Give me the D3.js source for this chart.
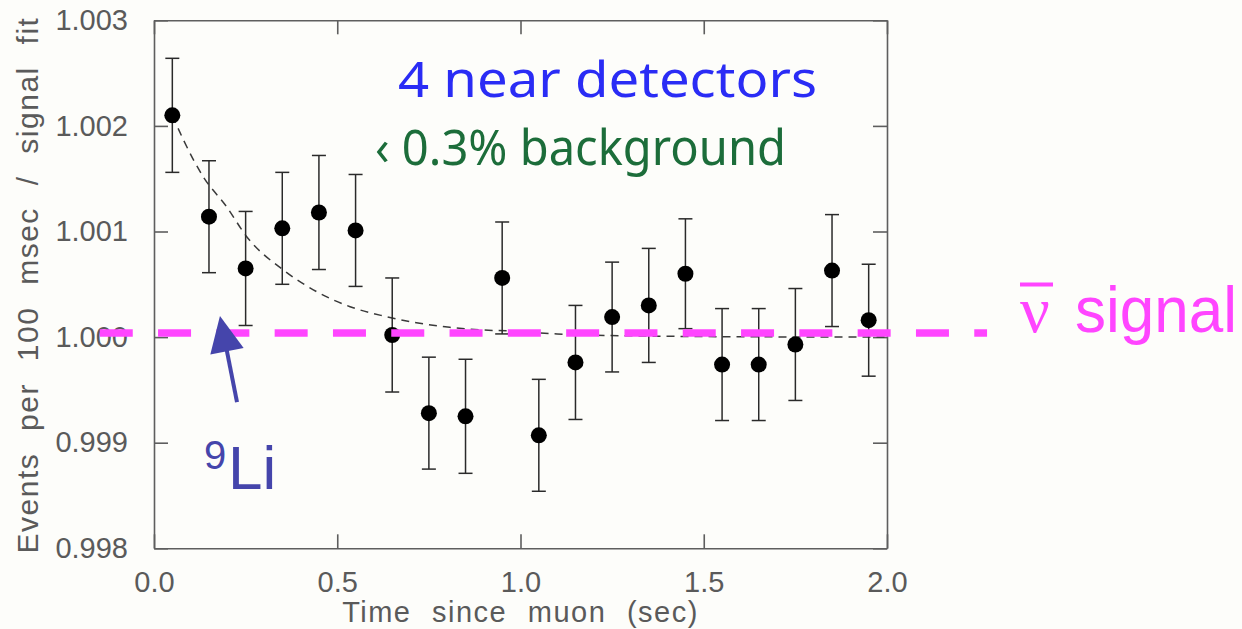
<!DOCTYPE html>
<html>
<head>
<meta charset="utf-8">
<script src="https://cdn.jsdelivr.net/npm/d3@7"></script>
<style>
  body { margin: 0; background: #fdfdfa; }
  svg { display: block; }
</style>
</head>
<body>
<svg id="chart" width="1242" height="629"></svg>
<script>
// data
const times = [0.05, 0.15, 0.25, 0.35, 0.45, 0.55, 0.65, 0.75, 0.85, 0.95,
               1.05, 1.15, 1.25, 1.35, 1.45, 1.55, 1.65, 1.75, 1.85, 1.95];
const ratio = [1.00210, 1.00114, 1.00065, 1.00103, 1.00118, 1.00101, 1.00002, 0.99928, 0.99925, 1.00056,
               0.99907, 0.99976, 1.00019, 1.00030, 1.00060, 0.99974, 0.99974, 0.99993, 1.00063, 1.00016];
const errors = [0.00054, 0.00053, 0.00054, 0.00053, 0.00054, 0.00053, 0.00054, 0.00053, 0.00054, 0.00053,
                0.00053, 0.00054, 0.00052, 0.00054, 0.00052, 0.00053, 0.00053, 0.00053, 0.00053, 0.00053];

// dashed 9Li fit curve
const fitT = [0.05, 0.08, 0.134, 0.198, 0.253, 0.353, 0.444, 0.535, 0.626, 0.716, 0.807, 0.898, 0.971, 1.1, 1.3, 1.5, 1.7, 2.0];
const fitV = [1.00210, 1.00187, 1.00152, 1.001235, 1.000951, 1.000635, 1.00043, 1.000288, 1.0002, 1.000136,
              1.000093, 1.000067, 1.000058, 1.00003, 1.000012, 1.000005, 1.000002, 1.0];

const xTicks = [0, 0.5, 1.0, 1.5, 2.0];
const yTicks = [0.998, 0.999, 1.000, 1.001, 1.002, 1.003];

// magenta signal line (level and time extent)
const signalLevel = 1.00004;
const signalT = [-0.148, 2.273];

const svg = d3.select("#chart");
svg.append("rect").attr("width", 1242).attr("height", 629).attr("fill", "#fdfdfa");

const x = d3.scaleLinear().domain([0, 2]).range([154, 887]);
const y = d3.scaleLinear().domain([0.998, 1.003]).range([548.3, 20.3]);

const axisColor = "#5e5e5e";
const textGray = "#5a5a5a";
const tickFont = "'Liberation Sans', Arial, sans-serif";

function styleAxis(g) {
    g.select(".domain").attr("stroke", axisColor).attr("stroke-width", 1.6);
    g.selectAll(".tick line").attr("stroke", axisColor).attr("stroke-width", 1.6);
    g.selectAll(".tick text").attr("fill", textGray).style("font-family", tickFont).style("font-size", "29px");
}

svg.append("g")
    .attr("transform", "translate(0," + y.range()[0] + ")")
    .call(d3.axisBottom(x).tickValues(xTicks).tickFormat(d3.format(".1f")).tickSize(-14).tickSizeOuter(0).tickPadding(23))
    .call(styleAxis);

svg.append("g")
    .attr("transform", "translate(0," + y.range()[1] + ")")
    .call(d3.axisTop(x).tickValues(xTicks).tickFormat("").tickSize(-14).tickSizeOuter(0))
    .call(styleAxis);

svg.append("g")
    .attr("transform", "translate(" + x.range()[0] + ",0)")
    .call(d3.axisLeft(y).tickValues(yTicks).tickFormat(d3.format(".3f")).tickSize(-14).tickSizeOuter(0).tickPadding(26))
    .call(styleAxis);

svg.append("g")
    .attr("transform", "translate(" + x.range()[1] + ",0)")
    .call(d3.axisRight(y).tickValues(yTicks).tickFormat("").tickSize(-14).tickSizeOuter(0))
    .call(styleAxis);

// axis titles
svg.append("text")
    .attr("x", x(1.0))
    .attr("y", 622)
    .attr("text-anchor", "middle")
    .attr("fill", textGray)
    .style("font-family", tickFont)
    .style("font-size", "29px")
    .style("letter-spacing", "1.5px")
    .style("word-spacing", "11px")
    .text("Time since muon (sec)");

svg.append("text")
    .attr("transform", "translate(38," + 285 + ") rotate(-90)")
    .attr("text-anchor", "middle")
    .attr("fill", textGray)
    .style("font-family", tickFont)
    .style("font-size", "30px")
    .style("letter-spacing", "1.5px")
    .style("word-spacing", "12px")
    .text("Events per 100 msec / signal fit");

// fit curve
const fitLine = d3.line()
    .x(function (d) { return x(d[0]); })
    .y(function (d) { return y(d[1]); })
    .curve(d3.curveMonotoneX);

svg.append("path")
    .datum(fitT.map(function (t, i) { return [t, fitV[i]]; }))
    .attr("d", fitLine)
    .attr("fill", "none")
    .attr("stroke", "#3a3a3a")
    .attr("stroke-width", 1.5)
    .attr("stroke-dasharray", "8 6");

// error bars and points
const points = times.map(function (t, i) { return { t: t, v: ratio[i], e: errors[i] }; });

const bars = svg.append("g").attr("stroke", "#2a2a2a").attr("stroke-width", 1.5);
bars.selectAll("line.err")
    .data(points)
    .enter()
    .append("line")
    .attr("class", "err")
    .attr("x1", function (d) { return x(d.t); })
    .attr("x2", function (d) { return x(d.t); })
    .attr("y1", function (d) { return y(d.v + d.e); })
    .attr("y2", function (d) { return y(d.v - d.e); });
bars.selectAll("line.capTop")
    .data(points)
    .enter()
    .append("line")
    .attr("class", "capTop")
    .attr("x1", function (d) { return x(d.t) - 7; })
    .attr("x2", function (d) { return x(d.t) + 7; })
    .attr("y1", function (d) { return y(d.v + d.e); })
    .attr("y2", function (d) { return y(d.v + d.e); });
bars.selectAll("line.capBot")
    .data(points)
    .enter()
    .append("line")
    .attr("class", "capBot")
    .attr("x1", function (d) { return x(d.t) - 7; })
    .attr("x2", function (d) { return x(d.t) + 7; })
    .attr("y1", function (d) { return y(d.v - d.e); })
    .attr("y2", function (d) { return y(d.v - d.e); });

svg.append("g").selectAll("circle")
    .data(points)
    .enter()
    .append("circle")
    .attr("cx", function (d) { return x(d.t); })
    .attr("cy", function (d) { return y(d.v); })
    .attr("r", 8)
    .attr("fill", "#000");

// signal line
const magenta = "#ff45ff";
svg.append("line")
    .attr("x1", x(signalT[0]))
    .attr("x2", x(signalT[1]))
    .attr("y1", y(signalLevel))
    .attr("y2", y(signalLevel))
    .attr("stroke", magenta)
    .attr("stroke-width", 7.5)
    .attr("stroke-dasharray", "33 25.3");

// nu-bar signal label
svg.append("text")
    .attr("x", 1020)
    .attr("y", 332)
    .attr("fill", magenta)
    .style("font-family", "'Liberation Serif', 'Times New Roman', serif")
    .style("font-size", "66px")
    .text("ν");
svg.append("line")
    .attr("x1", 1020).attr("x2", 1053)
    .attr("y1", 284.5).attr("y2", 284.5)
    .attr("stroke", magenta)
    .attr("stroke-width", 4);
svg.append("text")
    .attr("x", 1075)
    .attr("y", 332)
    .attr("fill", magenta)
    .attr("textLength", 162)
    .attr("lengthAdjust", "spacingAndGlyphs")
    .style("font-family", tickFont)
    .style("font-size", "64px")
    .text("signal");

// 9Li annotation
const liColor = "#4545ab";
const tail = [x(0.2265), y(0.999385)];
const tip = [x(0.18), y(1.0002)];
const dx = tip[0] - tail[0], dy = tip[1] - tail[1];
const len = Math.sqrt(dx * dx + dy * dy);
const ux = dx / len, uy = dy / len;
const headLen = 36, headHalf = 17;
const base = [tip[0] - ux * headLen, tip[1] - uy * headLen];
svg.append("line")
    .attr("x1", tail[0]).attr("y1", tail[1])
    .attr("x2", base[0] + ux * 4).attr("y2", base[1] + uy * 4)
    .attr("stroke", liColor)
    .attr("stroke-width", 4);
svg.append("polygon")
    .attr("points", [
        tip,
        [base[0] - uy * headHalf, base[1] + ux * headHalf],
        [base[0] + uy * headHalf, base[1] - ux * headHalf]
    ].map(function (p) { return p.join(","); }).join(" "))
    .attr("fill", liColor);

svg.append("text")
    .attr("x", 204)
    .attr("y", 469)
    .attr("fill", liColor)
    .style("font-family", tickFont)
    .style("font-size", "40px")
    .text("9");
svg.append("text")
    .attr("x", 228)
    .attr("y", 489)
    .attr("fill", liColor)
    .style("font-family", tickFont)
    .style("font-size", "62px")
    .text("Li");

// headline notes
svg.append("text")
    .attr("x", 398)
    .attr("y", 97)
    .attr("fill", "#2a2cf5")
    .attr("textLength", 419)
    .attr("lengthAdjust", "spacingAndGlyphs")
    .style("font-family", "'Comic Sans MS', 'Noto Sans', sans-serif")
    .style("font-size", "50px")
    .text("4 near detectors");

svg.append("text")
    .attr("x", 375)
    .attr("y", 165)
    .attr("fill", "#1c6d3a")
    .attr("textLength", 411)
    .attr("lengthAdjust", "spacingAndGlyphs")
    .style("font-family", "'Comic Sans MS', 'Noto Sans', sans-serif")
    .style("font-size", "50px")
    .text("‹ 0.3% background");
</script>
</body>
</html>
